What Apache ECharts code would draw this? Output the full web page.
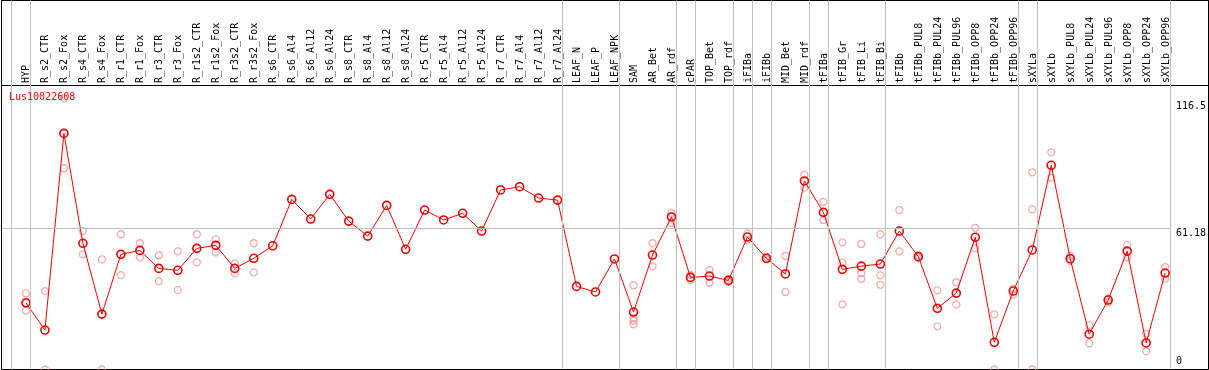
<!DOCTYPE html>
<html>
<head>
<meta charset="utf-8">
<script src="https://cdn.jsdelivr.net/npm/echarts@6.0.0/dist/echarts.min.js"></script>
<style>
html,body{margin:0;padding:0;background:#fff;}
#chart{width:1209px;height:370px;}
</style>
</head>
<body>
<div id="chart"></div>
<script>
const title = 'Lus10022608';
const categories = ['HYP','R_s2_CTR','R_s2_Fox','R_s4_CTR','R_s4_Fox','R_r1_CTR','R_r1_Fox','R_r3_CTR','R_r3_Fox','R_r1s2_CTR','R_r1s2_Fox','R_r3s2_CTR','R_r3s2_Fox','R_s6_CTR','R_s6_Al4','R_s6_Al12','R_s6_Al24','R_s8_CTR','R_s8_Al4','R_s8_Al12','R_s8_Al24','R_r5_CTR','R_r5_Al4','R_r5_Al12','R_r5_Al24','R_r7_CTR','R_r7_Al4','R_r7_Al12','R_r7_Al24','LEAF_N','LEAF_P','LEAF_NPK','SAM','AR_Bet','AR_rdf','cPAR','TOP_Bet','TOP_rdf','iFIBa','iFIBb','MID_Bet','MID_rdf','tFIBa','tFIB_Gr','tFIB_Li','tFIB_Bi','tFIBb','tFIBb_PUL8','tFIBb_PUL24','tFIBb_PUL96','tFIBb_OPP8','tFIBb_OPP24','tFIBb_OPP96','sXYLa','sXYLb','sXYLb_PUL8','sXYLb_PUL24','sXYLb_PUL96','sXYLb_OPP8','sXYLb_OPP24','sXYLb_OPP96'];
const meanValues = [28.9,17.1,102.3,54.7,24.0,49.9,51.6,43.8,43.0,52.5,53.8,43.8,48.2,53.6,73.7,65.2,75.9,64.3,57.8,71.1,52.1,69.1,64.8,67.7,60.0,77.8,79.2,74.3,73.4,36.0,33.6,47.9,24.9,49.6,66.1,39.9,40.5,38.6,57.4,48.2,41.4,81.7,68.1,43.4,44.8,45.7,60.0,48.9,26.5,33.1,57.3,11.8,34.0,51.8,88.5,48.0,15.3,30.1,51.3,11.5,41.8];
const replicateValues = [[33.0,28.7,25.5],[34.0,0],[117.5,87.2],[60.0,49.9],[47.7,0],[58.6,40.9],[54.7,48.6],[49.5,38.2],[51.2,34.4],[58.6,46.4],[56.4,50.8],[46.0,41.7],[54.7,42.1],[],[],[],[],[],[],[],[],[],[],[],[],[],[],[],[],[],[],[],[36.5,22.2,21.1,19.6],[54.7,44.7],[67.9,63.6],[40.9,38.8],[43.1,37.6],[39.3,38.0],[59.0,56.1],[48.9,47.7],[49.2,33.6],[84.3,78.8],[72.6,64.8],[55.1,46.3,28.2],[54.4,41.7,39.3],[58.6,40.8,36.7],[69.1,51.2],[49.5,48.3],[34.3,18.7],[37.8,28.2],[61.4,52.5],[23.9,0],[35.0,32.4],[85.4,69.4,0],[94.1,83.1],[49.3,47.1],[19.2,11.4],[30.7,29.2],[53.9,48.6],[15.5,7.9],[44.4,39.3]];
const yTickLabels = [0, 61.18, 116.5];
const refLineValue = 61.18;
const groupBoundaries = [-0.75,0.25,28.25,31.25,34.25,35.25,37.25,38.25,39.25,41.25,42.25,45.25,52.25,53.25,60.25];

const mono = 'DejaVu Sans Mono';
const gray = '#c0c0c0';

const lineData = meanValues.map((v,i)=>[i,v]);
const repData = [];
replicateValues.forEach((arr,i)=>arr.forEach(v=>repData.push([i,v])));

const chart = echarts.init(document.getElementById('chart'), null, {renderer:'canvas'});
chart.setOption({
  animation:false,
  backgroundColor:'#fff',
  title:{text:title,left:9,top:92,padding:0,textStyle:{color:'#ff0000',fontSize:10,fontFamily:mono,fontWeight:'normal'}},
  grid:[
    {left:2,right:38.3,top:0.5,bottom:0.5,show:false},
    {left:16.45,right:33.55,top:85,bottom:1,show:false},
    {left:1.5,right:0.5,top:0.5,bottom:0.5,show:true,borderColor:'#000',borderWidth:1,backgroundColor:'transparent'},
    {left:1.5,right:0.5,top:0.5,height:85,show:true,borderColor:'#000',borderWidth:1,backgroundColor:'transparent'}
  ],
  xAxis:[
    {gridIndex:0,type:'value',min:-1.2605,max:60.25,show:false,splitLine:{show:false}},
    {gridIndex:1,type:'category',data:categories,position:'top',boundaryGap:true,
      axisLine:{show:false},axisTick:{show:false},splitLine:{show:false},
      axisLabel:{rotate:90,margin:2,interval:0,fontSize:10,fontFamily:mono,color:'#000'}},
    {gridIndex:2,type:'value',show:false},
    {gridIndex:3,type:'value',show:false}
  ],
  yAxis:[
    {gridIndex:0,type:'value',min:0,max:159.9,position:'right',
      axisLine:{show:false},axisTick:{show:false},splitLine:{show:false},
      axisLabel:{customValues:yTickLabels,margin:6,fontSize:10,fontFamily:mono,color:'#000',
        formatter:function(v){return v===0?'{b|0}':'{t|'+v+'}';},
        rich:{t:{padding:[11,0,0,0],fontSize:10,fontFamily:mono},b:{padding:[0,0,16,0],fontSize:10,fontFamily:mono}}}},
    {gridIndex:1,type:'value',show:false},
    {gridIndex:2,type:'value',show:false},
    {gridIndex:3,type:'value',show:false}
  ],
  series:[
    {type:'line',xAxisIndex:0,yAxisIndex:0,data:[],silent:true,z:1,
      markLine:{silent:true,symbol:'none',label:{show:false},lineStyle:{color:gray,width:1,type:'solid'},
        data:groupBoundaries.map(x=>({xAxis:x})).concat([{yAxis:refLineValue}])}},
    {type:'scatter',xAxisIndex:0,yAxisIndex:0,data:repData,symbol:'circle',symbolSize:7,z:3,
      itemStyle:{color:'rgba(0,0,0,0)',borderColor:'#f09898',borderWidth:1.3}},
    {type:'line',xAxisIndex:0,yAxisIndex:0,data:lineData,symbol:'circle',symbolSize:8,z:4,clip:false,
      lineStyle:{color:'#ff0000',width:1},
      itemStyle:{color:'rgba(0,0,0,0)',borderColor:'#ee0000',borderWidth:1.6}}
  ]
});
</script>
</body>
</html>
